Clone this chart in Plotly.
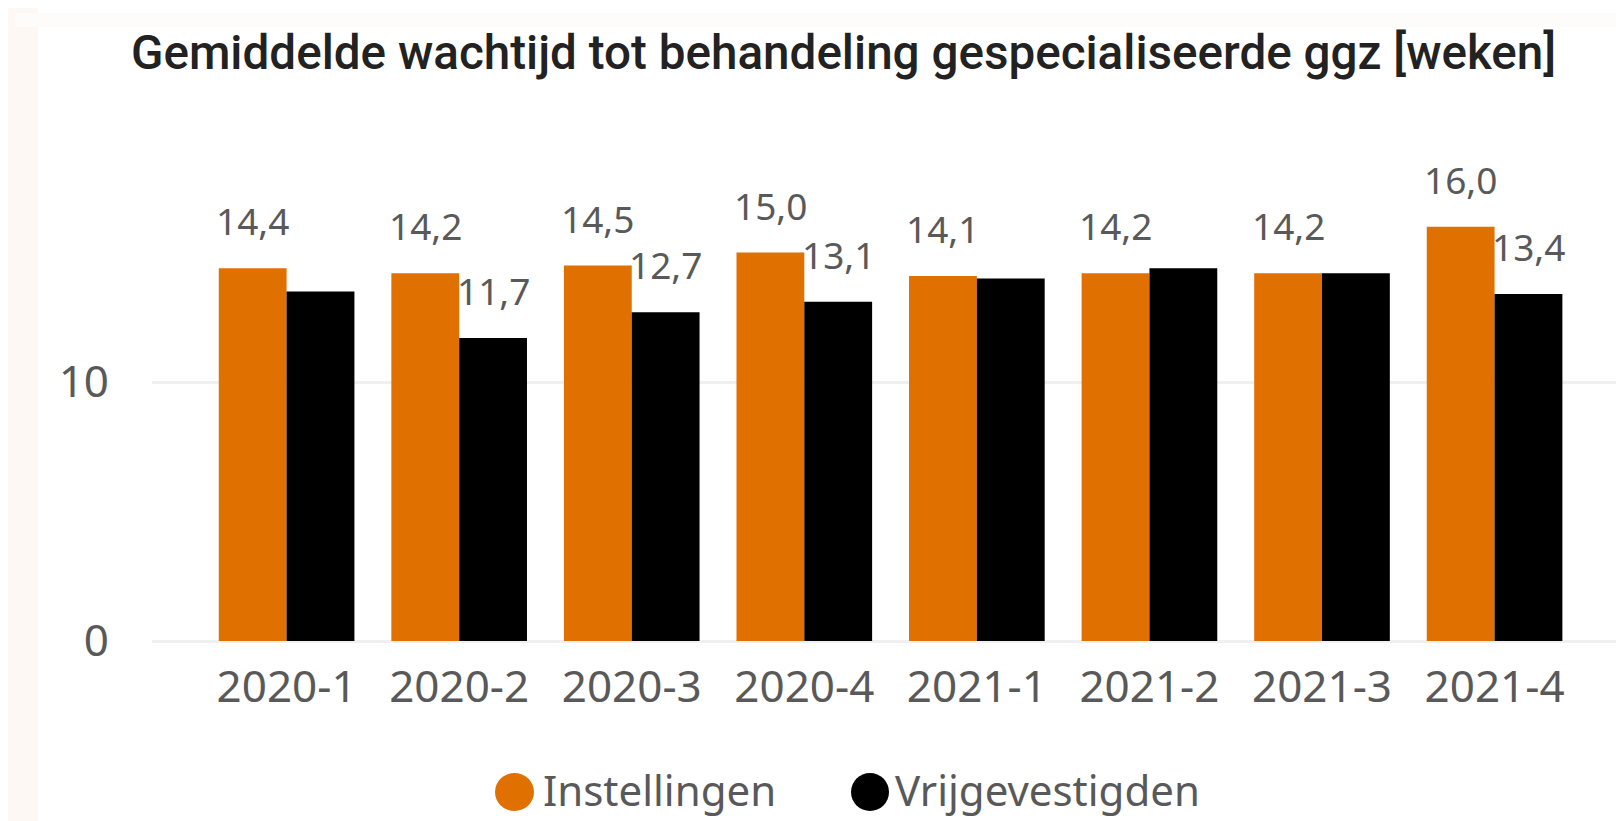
import plotly.graph_objects as go

categories = ["2020-1", "2020-2", "2020-3", "2020-4", "2021-1", "2021-2", "2021-3", "2021-4"]
instellingen = [14.4, 14.2, 14.5, 15.0, 14.1, 14.2, 14.2, 16.0]
vrijgevestigden = [13.5, 11.7, 12.7, 13.1, 14.0, 14.4, 14.2, 13.4]
# labels shown in the reference for the second series (others hidden)
vrij_label_shown = [False, True, True, True, False, False, False, True]
series_names = ["Instellingen", "Vrijgevestigden"]
colors = ["#E07000", "#000000"]
title_text = "Gemiddelde wachtijd tot behandeling gespecialiseerde ggz [weken]"

OFF = 8  # default page body margin
W, H = 1624 - OFF, 821 - OFF
# target page pixel positions (reference) converted to figure pixels
ML = 152 - OFF
MT = 162 - OFF
MB = H - (641 - OFF)
MR = 0
PW, PH = W - ML - MR, H - MT - MB


def px_x(px):  # page px -> paper fraction
    return (px - OFF - ML) / PW


def px_y(py):
    return (H - MB - (py - OFF)) / PH


fig = go.Figure()
fig.add_trace(go.Bar(x=categories, y=instellingen, name=series_names[0],
                     marker=dict(color=colors[0], line=dict(width=0)), showlegend=False))
fig.add_trace(go.Bar(x=categories, y=vrijgevestigden, name=series_names[1],
                     marker=dict(color=colors[1], line=dict(width=0)), showlegend=False))

label_font = dict(family="Noto Sans", size=37, color="#595959")
fmt = lambda v: f"{v:.1f}".replace(".", ",")
annotations = []
half_bar = 33.9
for c, v in zip(categories, instellingen):
    annotations.append(dict(x=c, y=v, xref="x", yref="y", text=fmt(v), showarrow=False,
                            xshift=-half_bar, yshift=20, yanchor="bottom", font=label_font))
for c, v, s in zip(categories, vrijgevestigden, vrij_label_shown):
    if s:
        annotations.append(dict(x=c, y=v, xref="x", yref="y", text=fmt(v), showarrow=False,
                                xshift=half_bar, yshift=20, yanchor="bottom", font=label_font))

# custom legend (circular markers)
legend_font = dict(family="Noto Sans", size=42, color="#595959")
leg_items = [(495, 534, 541), (851, 889, 893)]
shapes = [
    dict(type="rect", xref="paper", yref="paper", x0=px_x(0), x1=px_x(38), y0=px_y(830), y1=px_y(0),
         fillcolor="#FDF8F3", line=dict(width=0), layer="below"),
    dict(type="rect", xref="paper", yref="paper", x0=px_x(15), x1=px_x(1700), y0=px_y(27), y1=px_y(13),
         fillcolor="#FEFCFA", line=dict(width=0), layer="below"),
]
for (x0, x1, tx), name, col in zip(leg_items, series_names, colors):
    shapes.append(dict(type="circle", xref="paper", yref="paper",
                       x0=px_x(x0), x1=px_x(x1), y0=px_y(811), y1=px_y(773),
                       fillcolor=col, line=dict(width=0)))
    annotations.append(dict(x=px_x(tx), y=px_y(789), xref="paper", yref="paper",
                            text=name, showarrow=False, xanchor="left", yanchor="middle",
                            font=legend_font))

fig.update_layout(
    width=W, height=H,
    margin=dict(l=ML, r=MR, t=MT, b=MB),
    paper_bgcolor="#FFFFFF", plot_bgcolor="#FFFFFF",
    barmode="group", bargap=0.214, bargroupgap=0,
    title=dict(text=title_text, x=(131 - OFF) / W, xanchor="left", xref="container",
               y=1 - (52 - OFF) / H, yanchor="middle", yref="container",
               font=dict(family="Roboto", size=47.6, color="#222222", weight=500)),
    xaxis=dict(type="category", range=[-0.78, 7.75], showgrid=False, zeroline=False, showline=False,
               tickfont=dict(family="Noto Sans", size=44, color="#595959"),
               ticks="", ticklabelstandoff=16),
    yaxis=dict(range=[0, 18.5], tickvals=[0, 10], showgrid=True, gridcolor="#F0F0F0",
               gridwidth=3, zeroline=True, zerolinecolor="#F0F0F0", zerolinewidth=3,
               showline=False, ticks="",
               tickfont=dict(family="Noto Sans", size=44, color="#595959"),
               ticklabelstandoff=42),
    annotations=annotations,
    shapes=shapes,
)

fig.write_html("out.html")
